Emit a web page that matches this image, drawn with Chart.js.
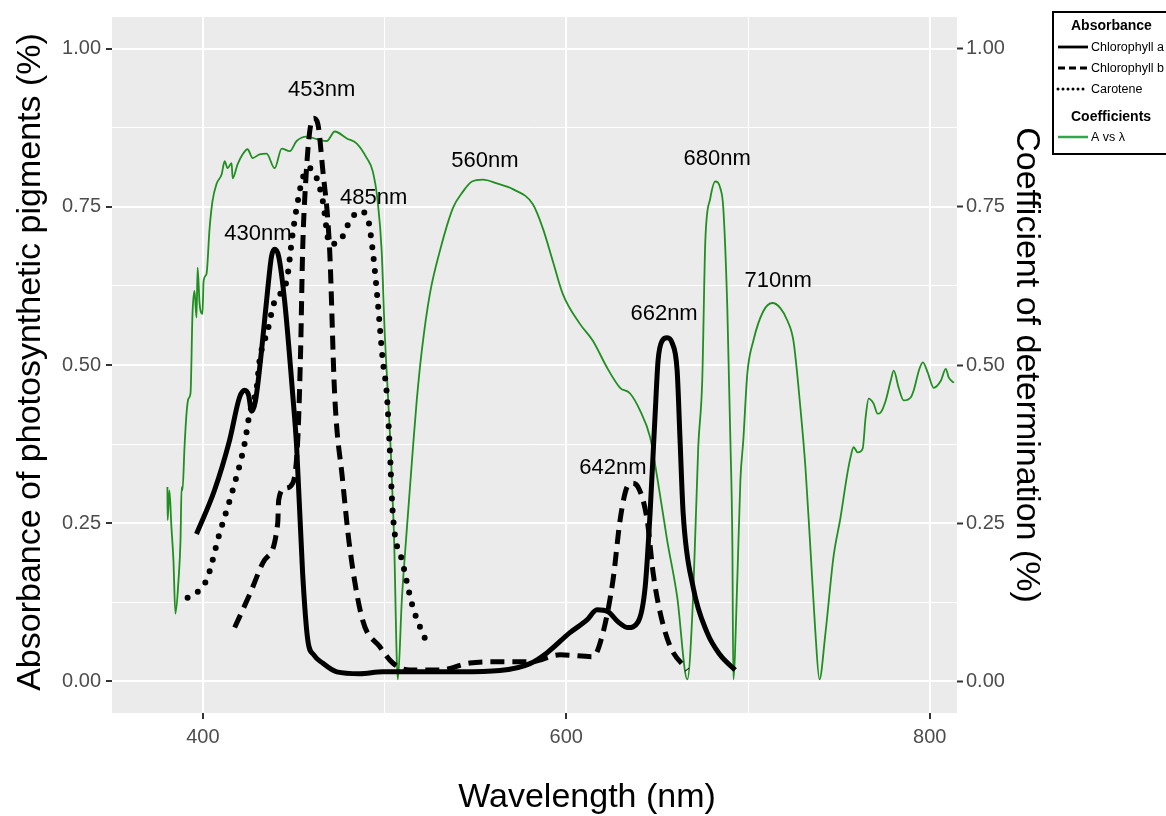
<!DOCTYPE html>
<html>
<head>
<meta charset="utf-8">
<script src="https://cdn.jsdelivr.net/npm/chart.js@4.4.1/dist/chart.umd.min.js"></script>
<style>
html,body{margin:0;padding:0;background:#fff;overflow:hidden}
#wrap{position:relative;width:1166px;height:816px}
</style>
</head>
<body>
<div id="wrap"><canvas id="c" width="1166" height="816"></canvas></div>
<script>
// ---------------- DATA ----------------
const chlA_nm = [396.5,406.4,414.7,420.2,423.0,425.2,426.8,429.0,432.3,435.6,
  437.8,439.5,441.7,445.0,449.4,451.6,454.9,457.7,461.0,465.9,
  473.7,486.3,499.0,519.4,541.4,563.4,580.0,589.3,602.0,611.4,
  616.9,623.0,628.5,634.0,639.5,643.4,646.1,648.9,650.5,652.7,
  655.5,658.2,661.0,662.6,664.3,669.8,677.5,684.6,692.9];
const chlA_abs = [0.233,0.302,0.381,0.449,0.460,0.452,0.427,0.444,0.523,0.617,
  0.672,0.683,0.672,0.601,0.455,0.371,0.171,0.066,0.042,0.029,
  0.015,0.012,0.015,0.015,0.015,0.017,0.028,0.045,0.077,0.097,
  0.113,0.110,0.094,0.085,0.094,0.149,0.266,0.423,0.507,0.538,
  0.543,0.535,0.491,0.381,0.266,0.149,0.077,0.042,0.018];

const chlB_nm = [417.5,425.7,434.0,441.2,441.7,445.0,449.4,452.2,453.8,454.9,
  456.6,458.8,461.0,463.2,465.9,469.8,472.5,476.9,480.8,487.9,
  497.3,504.5,513.8,530.4,546.9,563.4,580.0,596.5,614.7,620.2,
  625.7,629.6,633.4,636.2,639.5,644.5,647.8,651.7,657.2,666.6];
const chlB_abs = [0.085,0.137,0.192,0.250,0.286,0.305,0.313,0.381,0.523,0.680,
  0.790,0.869,0.890,0.882,0.811,0.680,0.455,0.318,0.212,0.097,
  0.055,0.029,0.018,0.018,0.029,0.031,0.031,0.042,0.039,0.077,
  0.160,0.255,0.307,0.313,0.307,0.255,0.171,0.108,0.055,0.018];

const carot_nm = [391.6,402.0,409.2,416.4,423.0,425.7,429.6,431.2,435.6,439.5,
  446.1,449.4,451.6,454.9,458.8,462.7,466.0,469.8,475.4,480.8,
  486.3,490.7,493.5,496.2,499.0,501.2,502.9,504.5,510.0,515.5,
  523.2];
const carot_abs = [0.132,0.160,0.234,0.302,0.376,0.423,0.464,0.507,0.554,0.601,
  0.633,0.707,0.748,0.795,0.811,0.795,0.759,0.691,0.696,0.727,
  0.743,0.732,0.680,0.601,0.507,0.455,0.365,0.266,0.187,0.118,
  0.061];

const coef_nm = [380.5,380.6,381.6,382.7,383.8,384.9,386.6,387.7,388.3,388.8,
  389.9,391.0,392.1,393.2,394.3,395.4,396.5,397.1,398.2,399.8,
  400.4,402.0,403.7,405.3,407.5,410.3,412.0,413.6,415.8,416.4,
  419.1,421.9,424.6,427.4,431.2,435.1,439.5,443.4,447.8,451.6,
  457.1,462.7,468.2,472.6,479.2,484.7,490.2,493.5,496.2,498.4,
  500.1,501.8,503.4,505.1,507.3,509.5,512.2,515.5,517.7,520.5,
  524.9,530.4,537.6,543.1,548.1,554.1,561.8,570.6,581.6,587.1,
  592.6,598.1,607.5,614.7,622.4,629.6,635.1,640.6,646.1,650.0,
  655.5,661.0,666.6,669.8,672.6,674.8,676.5,679.2,682.0,684.8,
  686.4,688.6,690.3,691.4,691.9,694.1,695.8,697.4,699.6,702.9,
  708.4,713.4,717.8,721.7,725.0,728.8,731.6,734.4,737.1,739.3,
  742.6,747.0,750.9,754.7,756.4,758.1,760.3,763.1,764.7,766.4,
  769.1,771.3,773.0,775.8,778.5,780.2,782.9,785.7,789.6,791.2,
  794.0,796.2,798.9,802.2,806.1,808.8,810.5,813.3];
const coef_r = [0.307,0.255,0.302,0.244,0.192,0.107,0.160,0.223,0.307,0.302,
  0.370,0.423,0.447,0.455,0.581,0.617,0.575,0.654,0.597,0.581,
  0.633,0.644,0.716,0.759,0.786,0.801,0.822,0.811,0.819,0.795,
  0.817,0.833,0.841,0.827,0.833,0.834,0.811,0.842,0.838,0.854,
  0.861,0.857,0.854,0.869,0.858,0.850,0.827,0.806,0.759,0.680,
  0.549,0.455,0.365,0.239,0.003,0.129,0.239,0.365,0.444,0.523,
  0.612,0.680,0.748,0.774,0.790,0.793,0.787,0.778,0.754,0.716,
  0.664,0.612,0.565,0.538,0.496,0.464,0.455,0.428,0.386,0.323,
  0.223,0.134,0.003,0.134,0.370,0.475,0.696,0.763,0.790,0.779,
  0.748,0.590,0.381,0.212,0.003,0.160,0.318,0.381,0.486,0.538,
  0.585,0.598,0.590,0.570,0.538,0.433,0.338,0.207,0.076,0.003,
  0.076,0.196,0.259,0.329,0.354,0.370,0.362,0.368,0.417,0.447,
  0.439,0.423,0.425,0.444,0.475,0.491,0.464,0.444,0.449,0.460,
  0.491,0.504,0.488,0.464,0.475,0.494,0.480,0.472];

const xTicks = [400, 500, 600, 700, 800];
const xMajor = [400, 600, 800];
const yTicks = [0, 0.125, 0.25, 0.375, 0.5, 0.625, 0.75, 0.875, 1.0];
const yMajor = [0, 0.25, 0.5, 0.75, 1.0];

const peakLabels = ['453nm','430nm','485nm','560nm','680nm','710nm','662nm','642nm'];
const peakLabelX = [465.4, 430.3, 494.0, 555.2, 683.0, 716.6, 653.8, 625.7];
const peakLabelY = [0.935, 0.707, 0.764, 0.822, 0.825, 0.633, 0.581, 0.338];

// ---------------- BUILD ----------------
const pts = (xs, ys) => xs.map((x, i) => ({x: x, y: ys[i]}));
const GREEN = '#1f8f1f';
const TICKFONT = {family: "'Liberation Sans', Arial, sans-serif", size: 20};
const SANS = "'Liberation Sans', Arial, Helvetica, sans-serif";

const isMajorX = v => xMajor.includes(v);
const isMajorY = v => yMajor.includes(v);

const deco = {
  id: 'deco',
  beforeDraw(chart) {
    const {ctx, chartArea: a} = chart;
    ctx.save();
    ctx.fillStyle = '#ffffff';
    ctx.fillRect(0, 0, chart.width, chart.height);
    ctx.fillStyle = '#EBEBEB';
    ctx.fillRect(a.left, a.top, a.right - a.left, a.bottom - a.top);
    ctx.restore();
  },
  afterDatasetsDraw(chart) {
    const {ctx} = chart;
    const xs = chart.scales.x, ys = chart.scales.y;
    ctx.save();
    ctx.fillStyle = '#000';
    ctx.font = '22px ' + SANS;
    ctx.textAlign = 'center';
    ctx.textBaseline = 'middle';
    peakLabels.forEach((t, i) => {
      ctx.fillText(t, xs.getPixelForValue(peakLabelX[i]), ys.getPixelForValue(peakLabelY[i]));
    });
    ctx.restore();
  },
  afterDraw(chart) {
    const {ctx} = chart;
    ctx.save();
    ctx.fillStyle = '#000';
    ctx.font = '34px ' + SANS;
    ctx.textAlign = 'center';
    ctx.textBaseline = 'middle';
    ctx.fillText('Wavelength (nm)', 587, 798);
    ctx.save();
    ctx.translate(31, 362);
    ctx.rotate(-Math.PI / 2);
    ctx.fillText('Absorbance of photosynthetic pigments (%)', 0, 0);
    ctx.restore();
    ctx.save();
    ctx.translate(1026, 365);
    ctx.rotate(Math.PI / 2);
    ctx.fillText('Coefficient of determination (%)', 0, 0);
    ctx.restore();

    // legend
    ctx.fillStyle = '#fff';
    ctx.fillRect(1053, 12, 130, 142);
    ctx.strokeStyle = '#000';
    ctx.lineWidth = 2;
    ctx.strokeRect(1053, 12, 130, 142);
    ctx.fillStyle = '#000';
    ctx.textAlign = 'left';
    ctx.font = 'bold 14px ' + SANS;
    ctx.fillText('Absorbance', 1071, 26);
    ctx.fillText('Coefficients', 1071, 117);
    ctx.font = '12.5px ' + SANS;
    const rows = [
      {y: 47, t: 'Chlorophyll a', dash: [], cap: 'butt', w: 2.8, c: '#000'},
      {y: 68, t: 'Chlorophyll b', dash: [7, 4], cap: 'butt', w: 2.8, c: '#000'},
      {y: 89, t: 'Carotene', dash: [0, 5], cap: 'round', w: 3, c: '#000'},
      {y: 137, t: 'A vs \u03bb', dash: [], cap: 'butt', w: 2.5, c: '#2ea84a'}
    ];
    rows.forEach(r => {
      ctx.save();
      ctx.strokeStyle = r.c;
      ctx.lineWidth = r.w;
      ctx.setLineDash(r.dash);
      ctx.lineCap = r.cap;
      ctx.beginPath();
      ctx.moveTo(1058, r.y);
      ctx.lineTo(1088, r.y);
      ctx.stroke();
      ctx.restore();
      ctx.fillText(r.t, 1091, r.y + 1);
    });
    ctx.restore();
  }
};

new Chart(document.getElementById('c'), {
  type: 'line',
  data: {
    datasets: [
      {label: 'Chlorophyll a', data: pts(chlA_nm, chlA_abs), yAxisID: 'y',
       borderColor: '#000', borderWidth: 5, pointRadius: 0,
       cubicInterpolationMode: 'monotone', borderJoinStyle: 'round'},
      {label: 'Chlorophyll b', data: pts(chlB_nm, chlB_abs), yAxisID: 'y',
       borderColor: '#000', borderWidth: 5, pointRadius: 0, borderDash: [14, 8],
       cubicInterpolationMode: 'monotone'},
      {label: 'Carotene', data: pts(carot_nm, carot_abs), yAxisID: 'y',
       borderColor: '#000', borderWidth: 6, pointRadius: 0, borderDash: [0, 12],
       borderCapStyle: 'round', cubicInterpolationMode: 'monotone'},
      {label: 'A vs \u03bb', data: pts(coef_nm, coef_r), yAxisID: 'y2',
       borderColor: GREEN, borderWidth: 1.8, pointRadius: 0,
       cubicInterpolationMode: 'monotone', borderJoinStyle: 'round'}
    ]
  },
  options: {
    responsive: false,
    animation: false,
    devicePixelRatio: 1,
    layout: {padding: {left: 0, top: 16, right: 109, bottom: 53}},
    plugins: {legend: {display: false}, tooltip: {enabled: false}},
    scales: {
      x: {
        type: 'linear', min: 350, max: 815,
        afterBuildTicks: s => { s.ticks = xTicks.map(v => ({value: v})); },
        afterFit: s => { s.height = 50; },
        border: {display: false},
        grid: {
          color: '#ffffff',
          lineWidth: c => (c.tick && isMajorX(c.tick.value)) ? 2 : 1,
          tickColor: c => (c.tick && isMajorX(c.tick.value)) ? '#333333' : 'rgba(0,0,0,0)',
          tickWidth: 2, tickLength: 6
        },
        ticks: {
          autoSkip: false, maxRotation: 0, padding: 6, color: '#4D4D4D', font: TICKFONT,
          callback: v => isMajorX(v) ? String(v) : ''
        }
      },
      y: {
        type: 'linear', position: 'left', min: -0.05, max: 1.05,
        afterBuildTicks: s => { s.ticks = yTicks.map(v => ({value: v})); },
        afterFit: s => { s.width = 112; },
        border: {display: false},
        grid: {
          color: '#ffffff',
          lineWidth: c => (c.tick && isMajorY(c.tick.value)) ? 2 : 1,
          tickColor: c => (c.tick && isMajorY(c.tick.value)) ? '#333333' : 'rgba(0,0,0,0)',
          tickWidth: 2, tickLength: 6
        },
        ticks: {
          autoSkip: false, padding: 5, color: '#4D4D4D', font: TICKFONT,
          callback: v => isMajorY(v) ? v.toFixed(2) : ''
        }
      },
      y2: {
        type: 'linear', position: 'right', min: -0.05, max: 1.05,
        afterBuildTicks: s => { s.ticks = yTicks.map(v => ({value: v})); },
        afterFit: s => { s.width = 100; },
        border: {display: false},
        grid: {
          drawOnChartArea: false,
          tickColor: c => (c.tick && isMajorY(c.tick.value)) ? '#333333' : 'rgba(0,0,0,0)',
          tickWidth: 2, tickLength: 6
        },
        ticks: {
          autoSkip: false, padding: 3, color: '#4D4D4D', font: TICKFONT,
          callback: v => isMajorY(v) ? v.toFixed(2) : ''
        }
      }
    }
  },
  plugins: [deco]
});
</script>
</body>
</html>
